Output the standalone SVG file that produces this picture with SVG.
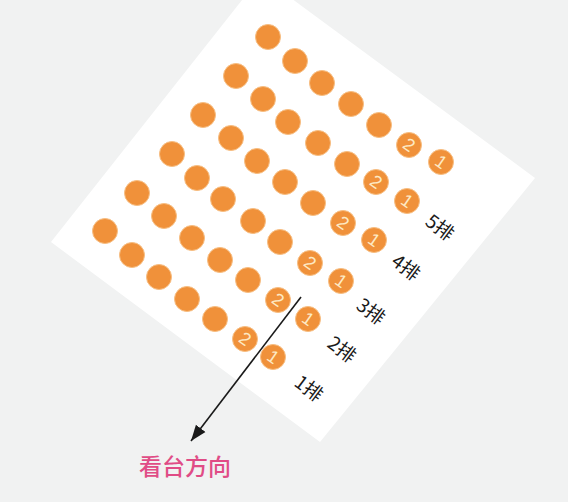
<svg xmlns="http://www.w3.org/2000/svg" width="568" height="502" viewBox="0 0 568 502">
<defs>
<style>
.seat circle{fill:#F0913A;stroke:#F7BE82;stroke-width:1}
.num{font-family:"Liberation Sans","DejaVu Sans",sans-serif;font-size:18px;fill:#FDE9C4;text-anchor:middle;dominant-baseline:central}
.lbl{font-family:"Noto Sans CJK SC","Noto Sans",sans-serif;font-size:19px;fill:#1a1a1a;text-anchor:middle;dominant-baseline:central}
.title{font-family:"Noto Sans CJK SC","Noto Sans",sans-serif;font-size:23px;fill:#E04C86;text-anchor:middle;font-weight:500}
</style>
<marker id="ah" markerUnits="userSpaceOnUse" markerWidth="17" markerHeight="13" refX="16" refY="6.5" orient="auto">
<path d="M0,0.5 L16,6.5 L0,12.5 z" fill="#1a1a1a"/>
</marker>
</defs>
<rect x="0" y="0" width="568" height="502" fill="#F1F2F2"/>
<polygon id="board" points="261,-24 535,178 320,442 51,242" fill="#FFFFFF"/>

<g id="row6">
<g class="seat" id="r6c1"><circle cx="441" cy="162" r="12.5"/><text class="num" x="441" y="162" transform="rotate(35 441 162)">1</text></g>
<g class="seat" id="r6c2"><circle cx="409" cy="145" r="12.5"/><text class="num" x="409" y="145" transform="rotate(35 409 145)">2</text></g>
<g class="seat" id="r6c3"><circle cx="379" cy="125" r="12.5"/></g>
<g class="seat" id="r6c4"><circle cx="351" cy="104" r="12.5"/></g>
<g class="seat" id="r6c5"><circle cx="322" cy="83" r="12.5"/></g>
<g class="seat" id="r6c6"><circle cx="295" cy="61" r="12.5"/></g>
<g class="seat" id="r6c7"><circle cx="268" cy="37" r="12.5"/></g>
</g>
<g id="row5">
<g class="seat" id="r5c1"><circle cx="407" cy="201" r="12.5"/><text class="num" x="407" y="201" transform="rotate(35 407 201)">1</text></g>
<g class="seat" id="r5c2"><circle cx="376" cy="182" r="12.5"/><text class="num" x="376" y="182" transform="rotate(35 376 182)">2</text></g>
<g class="seat" id="r5c3"><circle cx="347" cy="164" r="12.5"/></g>
<g class="seat" id="r5c4"><circle cx="318" cy="143" r="12.5"/></g>
<g class="seat" id="r5c5"><circle cx="288" cy="122" r="12.5"/></g>
<g class="seat" id="r5c6"><circle cx="263" cy="99" r="12.5"/></g>
<g class="seat" id="r5c7"><circle cx="236" cy="76" r="12.5"/></g>
<text class="lbl" x="441" y="226" transform="rotate(37 441 226)">5排</text>
</g>
<g id="row4">
<g class="seat" id="r4c1"><circle cx="374" cy="240" r="12.5"/><text class="num" x="374" y="240" transform="rotate(35 374 240)">1</text></g>
<g class="seat" id="r4c2"><circle cx="343" cy="223" r="12.5"/><text class="num" x="343" y="223" transform="rotate(35 343 223)">2</text></g>
<g class="seat" id="r4c3"><circle cx="313" cy="203" r="12.5"/></g>
<g class="seat" id="r4c4"><circle cx="285" cy="182" r="12.5"/></g>
<g class="seat" id="r4c5"><circle cx="257" cy="161" r="12.5"/></g>
<g class="seat" id="r4c6"><circle cx="231" cy="138" r="12.5"/></g>
<g class="seat" id="r4c7"><circle cx="203" cy="115" r="12.5"/></g>
<text class="lbl" x="407" y="266" transform="rotate(37 407 266)">4排</text>
</g>
<g id="row3">
<g class="seat" id="r3c1"><circle cx="341" cy="281" r="12.5"/><text class="num" x="341" y="281" transform="rotate(35 341 281)">1</text></g>
<g class="seat" id="r3c2"><circle cx="310" cy="263" r="12.5"/><text class="num" x="310" y="263" transform="rotate(35 310 263)">2</text></g>
<g class="seat" id="r3c3"><circle cx="280" cy="242" r="12.5"/></g>
<g class="seat" id="r3c4"><circle cx="253" cy="221" r="12.5"/></g>
<g class="seat" id="r3c5"><circle cx="223" cy="199" r="12.5"/></g>
<g class="seat" id="r3c6"><circle cx="197" cy="178" r="12.5"/></g>
<g class="seat" id="r3c7"><circle cx="172" cy="154" r="12.5"/></g>
<text class="lbl" x="372" y="310" transform="rotate(37 372 310)">3排</text>
</g>
<g id="row2">
<g class="seat" id="r2c1"><circle cx="308" cy="319" r="12.5"/><text class="num" x="308" y="319" transform="rotate(35 308 319)">1</text></g>
<g class="seat" id="r2c2"><circle cx="278" cy="300" r="12.5"/><text class="num" x="278" y="300" transform="rotate(35 278 300)">2</text></g>
<g class="seat" id="r2c3"><circle cx="248" cy="280" r="12.5"/></g>
<g class="seat" id="r2c4"><circle cx="220" cy="260" r="12.5"/></g>
<g class="seat" id="r2c5"><circle cx="192" cy="238" r="12.5"/></g>
<g class="seat" id="r2c6"><circle cx="164" cy="216" r="12.5"/></g>
<g class="seat" id="r2c7"><circle cx="137" cy="193" r="12.5"/></g>
<text class="lbl" x="343" y="348" transform="rotate(37 343 348)">2排</text>
</g>
<g id="row1">
<g class="seat" id="r1c1"><circle cx="273" cy="357" r="12.5"/><text class="num" x="273" y="357" transform="rotate(35 273 357)">1</text></g>
<g class="seat" id="r1c2"><circle cx="245" cy="339" r="12.5"/><text class="num" x="245" y="339" transform="rotate(35 245 339)">2</text></g>
<g class="seat" id="r1c3"><circle cx="215" cy="319" r="12.5"/></g>
<g class="seat" id="r1c4"><circle cx="187" cy="299" r="12.5"/></g>
<g class="seat" id="r1c5"><circle cx="159" cy="277" r="12.5"/></g>
<g class="seat" id="r1c6"><circle cx="132" cy="255" r="12.5"/></g>
<g class="seat" id="r1c7"><circle cx="105" cy="231" r="12.5"/></g>
<text class="lbl" x="310" y="387" transform="rotate(37 310 387)">1排</text>
</g>

<g id="connectors">
<line x1="301" y1="297" x2="191" y2="441" stroke="#1a1a1a" stroke-width="1.6" marker-end="url(#ah)"/>
</g>

<g id="stand-label">
<text class="title" x="185" y="475">看台方向</text>
</g>
</svg>
